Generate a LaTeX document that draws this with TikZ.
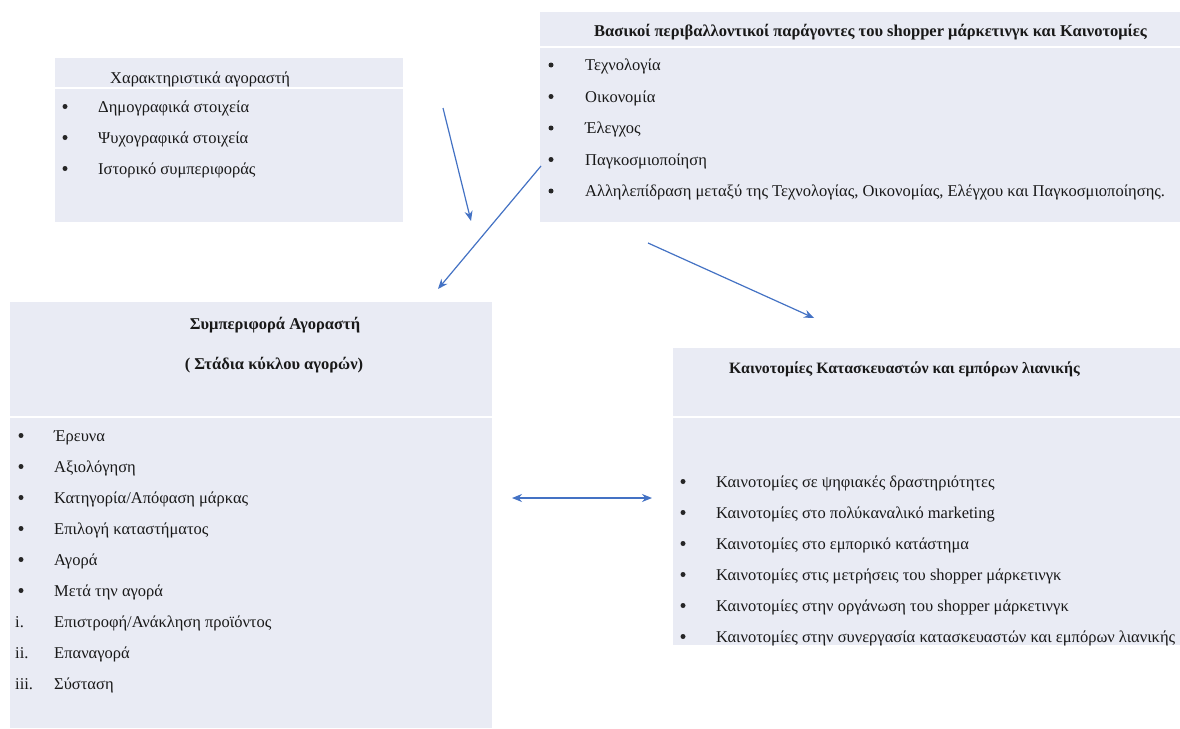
\documentclass[tikz,border=0pt]{standalone}
\usepackage{fontspec}
\setmainfont{Liberation Serif}
\usetikzlibrary{arrows.meta}

\definecolor{panelfill}{RGB}{233,235,244}
\definecolor{linkblue}{RGB}{68,114,196}

\begin{document}
\begin{tikzpicture}[x=1pt,y=-1pt,
  panel/.style={fill=panelfill, draw=none, inner sep=0pt, anchor=north west},
  txt/.style={anchor=base west, inner sep=0pt, font=\fontsize{16.5}{19}\selectfont, text=black!90},
  ttl/.style={txt, font=\fontsize{16.5}{19}\selectfont\bfseries},
  bul/.style={circle, fill=black!85, draw=none, inner sep=0pt, minimum size=5pt},
  link/.style={draw=linkblue, line width=1.2pt, -{Stealth[length=10pt,width=8pt]}}
]
\useasboundingbox[fill=white] (0,0) rectangle (1180,728);

% panels: header band and body, split by a thin white gap
\node[panel, minimum width=348pt, minimum height=29pt]  (buyerhead) at (55,58)  {};
\node[panel, minimum width=348pt, minimum height=133pt] (buyerbody) at (55,89)  {};
\node[panel, minimum width=640pt, minimum height=34pt]  (envhead)   at (540,12) {};
\node[panel, minimum width=640pt, minimum height=174pt] (envbody)   at (540,48) {};
\node[panel, minimum width=482pt, minimum height=114pt] (behhead)   at (10,302) {};
\node[panel, minimum width=482pt, minimum height=310pt] (behbody)   at (10,418) {};
\node[panel, minimum width=507pt, minimum height=68pt]  (innhead)   at (673,348) {};
\node[panel, minimum width=507pt, minimum height=227pt] (innbody)   at (673,418) {};

% buyer characteristics
\node[txt] (buyertitle) at (110,83) {Χαρακτηριστικά αγοραστή};
\foreach \t [count=\i] in {Δημογραφικά στοιχεία, Ψυχογραφικά στοιχεία, Ιστορικό συμπεριφοράς}{
  \node[bul] (buyerb\i) at (65,{75.5+31*\i}) {};
  \node[txt] (buyeri\i) at (98,{81+31*\i}) {\t};
}

% environmental factors
\node[ttl] (envtitle) at (594,36) {Βασικοί περιβαλλοντικοί παράγοντες του shopper μάρκετινγκ και Καινοτομίες};
\foreach \t [count=\i] in {Τεχνολογία, Οικονομία, Έλεγχος, Παγκοσμιοποίηση, {Αλληλεπίδραση μεταξύ της Τεχνολογίας, Οικονομίας, Ελέγχου και Παγκοσμιοποίησης.}}{
  \node[bul] (envb\i) at (551,{33.5+31.5*\i}) {};
  \node[txt] (envi\i) at (585,{39+31.5*\i}) {\t};
}

% shopper behaviour
\node[ttl, anchor=base] (behtitle) at (275,329) {Συμπεριφορά Αγοραστή};
\node[ttl, anchor=base] (behsub)   at (274,369) {( Στάδια κύκλου αγορών)};
\foreach \t [count=\i] in {Έρευνα, Αξιολόγηση, Κατηγορία/Απόφαση μάρκας, Επιλογή καταστήματος, Αγορά, Μετά την αγορά}{
  \node[bul] (behb\i) at (21,{404.5+31*\i}) {};
  \node[txt] (behi\i) at (54,{410+31*\i}) {\t};
}
\foreach \n/\t [count=\i] in {i./{Επιστροφή/Ανάκληση προϊόντος}, ii./Επαναγορά, iii./Σύσταση}{
  \node[txt] (behn\i) at (15,{596+31*\i}) {\n};
  \node[txt] (behs\i) at (54,{596+31*\i}) {\t};
}

% innovations
\node[ttl, font=\fontsize{15.8}{19}\selectfont\bfseries] (inntitle) at (729,373) {Καινοτομίες Κατασκευαστών και εμπόρων λιανικής};
\foreach \t [count=\i] in {Καινοτομίες σε ψηφιακές δραστηριότητες, Καινοτομίες στο πολύκαναλικό marketing, Καινοτομίες στο εμπορικό κατάστημα, Καινοτομίες στις μετρήσεις του shopper μάρκετινγκ, Καινοτομίες στην οργάνωση του shopper μάρκετινγκ, Καινοτομίες στην συνεργασία κατασκευαστών και εμπόρων λιανικής}{
  \node[bul] (innb\i) at (683,{450.5+31*\i}) {};
  \node[txt] (inni\i) at (716,{456+31*\i}) {\t};
}

% connectors
\coordinate (a1s) at (443,108);
\coordinate (a1e) at (471,221);
\coordinate (a2s) at (541,166);
\coordinate (a2e) at (438,289);
\coordinate (a3s) at (648,243);
\coordinate (a3e) at (814,318);
\coordinate (a4s) at (512,498);
\coordinate (a4e) at (652,498);
\draw[link] (a1s) -- (a1e);
\draw[link] (a2s) -- (a2e);
\draw[link] (a3s) -- (a3e);
\draw[link, {Stealth[length=10pt,width=8pt]}-{Stealth[length=10pt,width=8pt]}] (a4s) -- (a4e);
\end{tikzpicture}
\end{document}
